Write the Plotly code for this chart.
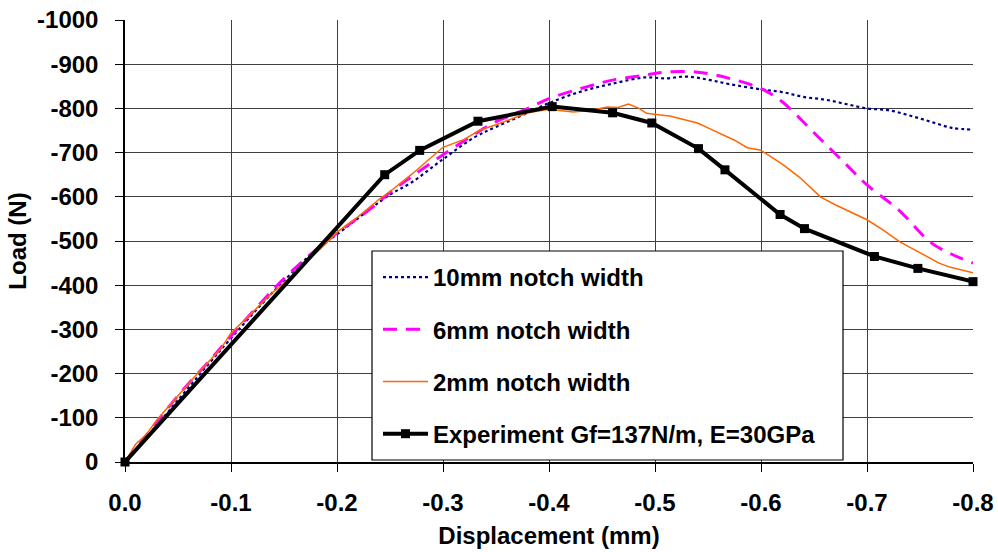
import plotly.graph_objects as go

# ---- data ----
x_10mm = [0, -0.02, -0.05, -0.08, -0.1, -0.13, -0.15, -0.18, -0.2, -0.23, -0.25, -0.27, -0.3, -0.33, -0.35,
          -0.38, -0.4, -0.43, -0.46, -0.49, -0.51, -0.53, -0.55, -0.57, -0.6, -0.62, -0.64, -0.66, -0.68,
          -0.7, -0.72, -0.74, -0.76, -0.78, -0.8]
y_10mm = [0, -55, -140, -225, -280, -360, -410, -480, -515, -570, -605, -632, -685, -735, -758,
          -790, -812, -838, -856, -870, -868, -872, -865, -855, -843, -837, -826, -820, -810,
          -800, -796, -784, -770, -756, -752]

x_6mm = [0, -0.02, -0.05, -0.08, -0.1, -0.13, -0.15, -0.18, -0.2, -0.23, -0.25, -0.27, -0.3, -0.33, -0.35,
         -0.38, -0.4, -0.43, -0.46, -0.49, -0.51, -0.54, -0.57, -0.6, -0.62, -0.65, -0.68, -0.7, -0.73,
         -0.76, -0.78, -0.8]
y_6mm = [0, -60, -150, -230, -285, -365, -415, -480, -518, -570, -610, -645, -695, -742, -770,
         -800, -822, -845, -864, -875, -882, -882, -868, -845, -815, -745, -674, -627, -570,
         -497, -470, -450]

x_2mm = [0, -0.01, -0.02, -0.03, -0.05, -0.07, -0.09, -0.1, -0.12, -0.14, -0.15, -0.17, -0.19, -0.2,
         -0.22, -0.24, -0.25, -0.27, -0.29, -0.3, -0.32, -0.335, -0.35, -0.366, -0.38, -0.39, -0.40,
         -0.41, -0.423, -0.44, -0.455, -0.465, -0.475, -0.485, -0.492, -0.505, -0.514, -0.527, -0.54,
         -0.55, -0.561, -0.575, -0.587, -0.599, -0.61, -0.621, -0.637, -0.656, -0.67, -0.684, -0.7,
         -0.715, -0.731, -0.745, -0.757, -0.768, -0.778, -0.79, -0.8]
y_2mm = [0, -40, -62, -95, -150, -205, -255, -292, -338, -385, -405, -450, -495, -520,
         -555, -595, -612, -650, -690, -712, -730, -751, -763, -778, -790, -794, -798,
         -795, -792, -796, -803, -802, -810, -800, -789, -785, -783, -775, -767,
         -756, -744, -728, -711, -706, -690, -672, -643, -600, -582, -566, -548,
         -525, -498, -480, -464, -450, -441, -433, -428]

x_exp = [0, -0.245, -0.278, -0.333, -0.403, -0.460, -0.497, -0.541, -0.566, -0.618, -0.641, -0.707, -0.748, -0.800]
y_exp = [0, -650, -705, -771, -804, -790, -767, -709, -661, -560, -528, -465, -438, -408]

names = ["10mm notch width", "6mm notch width", "2mm notch width", "Experiment Gf=137N/m, E=30GPa"]

x_tickvals = [0, -0.1, -0.2, -0.3, -0.4, -0.5, -0.6, -0.7, -0.8]
x_ticktext = ["0.0", "-0.1", "-0.2", "-0.3", "-0.4", "-0.5", "-0.6", "-0.7", "-0.8"]
y_tickvals = [0, -100, -200, -300, -400, -500, -600, -700, -800, -900, -1000]
y_ticktext = ["0", "-100", "-200", "-300", "-400", "-500", "-600", "-700", "-800", "-900", "-1000"]

FONT = "Liberation Sans, Arial, sans-serif"
FS = 24

fig = go.Figure()
fig.add_trace(go.Scatter(x=x_10mm, y=y_10mm, mode="lines", name=names[0], legendgroup="a",
                         line=dict(color="#000080", width=2.2, dash="dot"), line_shape="spline"))
fig.add_trace(go.Scatter(x=x_6mm, y=y_6mm, mode="lines", name=names[1], legendgroup="b",
                         line=dict(color="#FF00FF", width=3, dash="14px,9px"), line_shape="spline"))
fig.add_trace(go.Scatter(x=x_2mm, y=y_2mm, mode="lines", name=names[2], legendgroup="c",
                         line=dict(color="#FF6600", width=1.5)))
fig.add_trace(go.Scatter(x=x_exp, y=y_exp, mode="lines+markers", name=names[3], legendgroup="d",
                         line=dict(color="black", width=4),
                         marker=dict(symbol="square", size=9, color="black"), cliponaxis=False))

# legend frame (paper coords of plot area)
fig.add_shape(type="rect", xref="paper", yref="paper",
              x0=(372 - 125) / 848, x1=(843 - 125) / 848,
              y0=(462 - 460) / 442, y1=(462 - 251) / 442,
              fillcolor="white", line=dict(color="black", width=1.2), layer="above")

fig.update_layout(
    width=998, height=552,
    margin=dict(l=125, r=25, t=20, b=90),
    paper_bgcolor="white", plot_bgcolor="white",
    font=dict(family=FONT, size=FS, color="black", weight="bold"),
    showlegend=True,
    legend=dict(x=(378 - 125) / 848, y=(462 - 255) / 442, xanchor="left", yanchor="top",
                bgcolor="rgba(0,0,0,0)", borderwidth=0,
                font=dict(family=FONT, size=FS, color="black", weight="bold"),
                tracegroupgap=18, traceorder="grouped", itemwidth=45),
    xaxis=dict(range=[0, -0.8], tickvals=x_tickvals, ticktext=x_ticktext, automargin=False,
               showgrid=True, gridcolor="#404040", gridwidth=1,
               showline=True, linecolor="black", linewidth=1.5,
               ticks="outside", ticklen=8, tickcolor="black", ticklabelstandoff=10,
               zeroline=False,
               title=dict(text="Displacement (mm)", standoff=13,
                          font=dict(family=FONT, size=FS, color="black", weight="bold"))),
    yaxis=dict(range=[0, -1000], tickvals=y_tickvals, ticktext=y_ticktext, automargin=False,
               showgrid=True, gridcolor="#404040", gridwidth=1,
               showline=True, linecolor="black", linewidth=1.5,
               ticks="outside", ticklen=8, tickcolor="black", ticklabelstandoff=12,
               zeroline=False,
               title=dict(text="Load (N)", standoff=4,
                          font=dict(family=FONT, size=FS, color="black", weight="bold"))),
)

fig.write_html("out.html")
